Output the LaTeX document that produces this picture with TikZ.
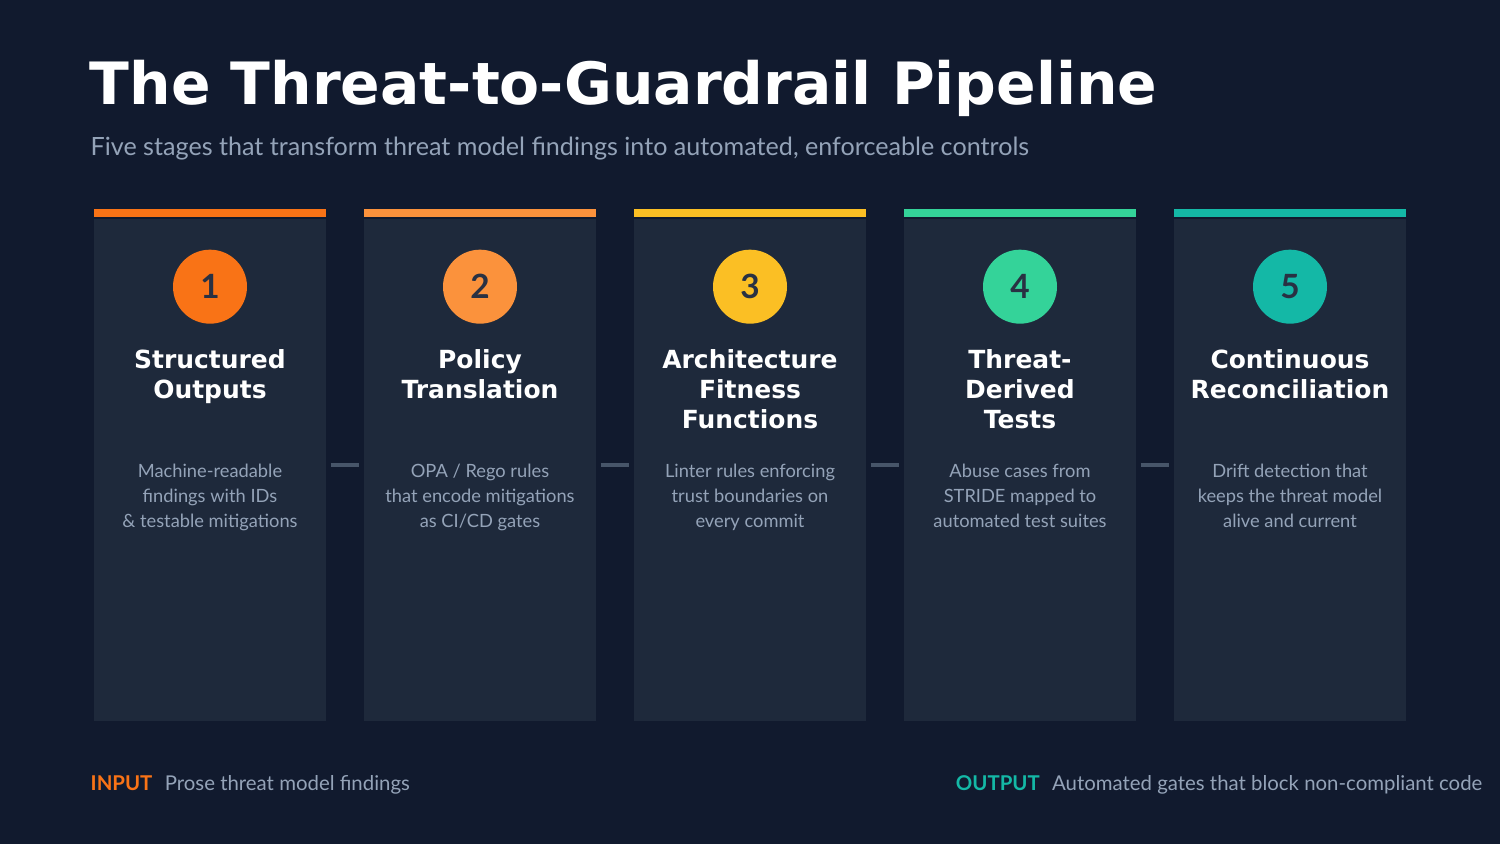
\documentclass[tikz,border=0pt]{standalone}
\usepackage{fontspec}
\setmainfont{Lato}
\newfontfamily\headfont{DejaVu Sans}
\usetikzlibrary{positioning,calc}
\definecolor{bgnavy}{HTML}{111A2E}
\definecolor{cardbg}{HTML}{1E293B}
\definecolor{mutedtxt}{HTML}{94A3B8}
\definecolor{linkgray}{HTML}{475569}
\definecolor{stageA}{HTML}{F97316}
\definecolor{stageB}{HTML}{FB923C}
\definecolor{stageC}{HTML}{FBBF24}
\definecolor{stageD}{HTML}{34D399}
\definecolor{stageE}{HTML}{14B8A6}

\begin{document}
\begin{tikzpicture}[
    card/.style={rectangle,fill=cardbg,minimum width=2.32cm,minimum height=5.02cm,
		anchor=north,inner sep=0pt},
    bar/.style={rectangle,fill=#1,minimum width=2.32cm,minimum height=0.08cm,
		anchor=south,inner sep=0pt},
    badge/.style={circle,fill=#1,minimum size=0.74cm,inner sep=0pt,
		font=\fontsize{9.5pt}{10pt}\selectfont\bfseries,text=bgnavy!90},
% Text styles
    heading/.style={align=center,text=white,
		font=\headfont\fontsize{7.1pt}{8.5pt}\selectfont\bfseries},
    blurb/.style={align=center,text=mutedtxt,font=\fontsize{5.2pt}{7.1pt}\selectfont},
    link/.style={draw=linkgray,line width=1.2pt}
    ]
    \fill [bgnavy] (0,0) rectangle (15,8.44);
    \useasboundingbox (0,0) rectangle (15,8.44);

    % Title
    \node [anchor=base west,inner sep=0pt,text=white,
		font=\headfont\fontsize{16.6pt}{20pt}\selectfont\bfseries] (title) at (0.89,7.39) {The Threat-to-Guardrail Pipeline};
    \node [anchor=base west,inner sep=0pt,text=mutedtxt,
		font=\fontsize{7.15pt}{9pt}\selectfont] (subtitle) at (0.90,6.88) {Five stages that transform threat model findings into automated, enforceable controls};

    % Place cards
    \foreach \i/\col/\head/\txt in {
	1/stageA/{Structured\\Outputs}/{Machine-readable\\findings with IDs\\\& testable mitigations},
	2/stageB/{Policy\\Translation}/{OPA / Rego rules\\that encode mitigations\\as CI/CD gates},
	3/stageC/{Architecture\\Fitness\\Functions}/{Linter rules enforcing\\trust boundaries on\\every commit},
	4/stageD/{Threat-\\Derived\\Tests}/{Abuse cases from\\STRIDE mapped to\\automated test suites},
	5/stageE/{Continuous\\Reconciliation}/{Drift detection that\\keeps the threat model\\alive and current}} {
      \node [card] (card\i) at ({2.1+2.7*(\i-1)},6.26) {};
      \node [bar=\col] (bar\i) at (card\i.north) {};
      \node [badge=\col,below=0.31cm of card\i.north] (num\i) {\i};
      \node [heading,below=0.13cm of num\i.south,anchor=north] (head\i) {\head};
      \node [blurb,anchor=north] (txt\i) at ($(card\i.north)+(0,-2.34)$) {\txt};
    }

    % Draw links
    \foreach \i [evaluate=\i as \j using int(\i+1)] in {1,...,4} {
      \coordinate (linkstart\i) at ($(card\i.east |- 0,3.79)+(0.04,0)$);
      \coordinate (linkend\i) at ($(card\j.west |- 0,3.79)+(-0.04,0)$);
      \draw [link] (linkstart\i) -- (linkend\i);
    }

    % Footer
    \node [anchor=base west,inner sep=0pt,text=stageA,
		font=\fontsize{5.8pt}{7pt}\selectfont\bfseries] (inlabel) at (0.90,0.53) {INPUT};
    \node [inner sep=0pt,text=mutedtxt,right=0.11cm of inlabel.base east,anchor=base west,
		font=\fontsize{5.8pt}{7pt}\selectfont] (intext) {Prose threat model findings};
    \node [anchor=base east,inner sep=0pt,text=mutedtxt,
		font=\fontsize{5.8pt}{7pt}\selectfont] (outtext) at (14.83,0.53) {Automated gates that block non-compliant code};
    \node [inner sep=0pt,text=stageE,left=0.11cm of outtext.base west,anchor=base east,
		font=\fontsize{5.8pt}{7pt}\selectfont\bfseries] (outlabel) {OUTPUT};
\end{tikzpicture}
\end{document}
